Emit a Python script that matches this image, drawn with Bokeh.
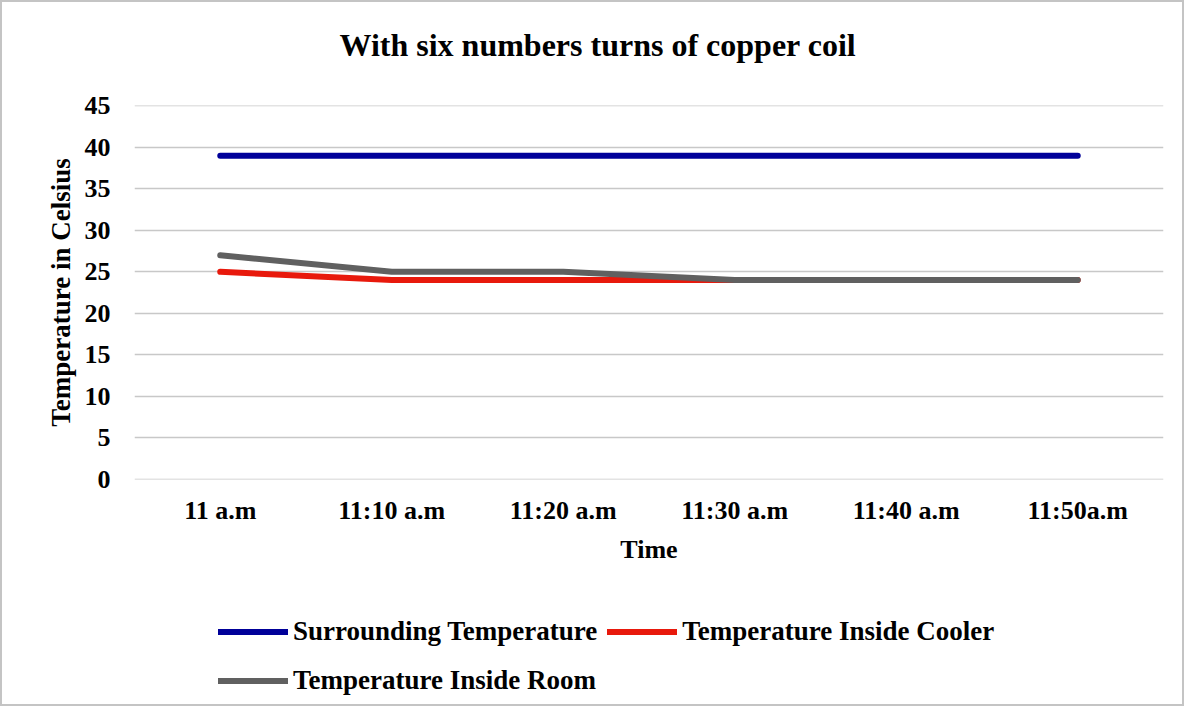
from bokeh.plotting import figure
from bokeh.layouts import column
from bokeh.models import Legend, LegendItem, Range1d, FactorRange, Title
from bokeh.embed import file_html
from bokeh.resources import INLINE

times = ["11 a.m", "11:10 a.m", "11:20 a.m", "11:30 a.m", "11:40 a.m", "11:50a.m"]
surrounding = [39, 39, 39, 39, 39, 39]
cooler = [25, 24, 24, 24, 24, 24]
room = [27, 25, 25, 24, 24, 24]

series_names = ["Surrounding Temperature", "Temperature Inside Cooler", "Temperature Inside Room"]
series_colors = ["#000099", "#e8190c", "#606060"]
series_values = [surrounding, cooler, room]

FONT = "Liberation Serif"

p = figure(x_range=FactorRange(*times), y_range=Range1d(-0.05, 45.05),
           frame_width=1029, frame_height=374,
           min_border_left=132, min_border_right=19,
           min_border_top=103, min_border_bottom=111,
           output_backend="svg", toolbar_location=None)

# spacer between frame and title (panels added first sit closest to the frame)
p.add_layout(Title(text=" ", text_font_size="2px", standoff=39), "above")
p.add_layout(Title(text="With six numbers turns of copper coil", align="left", offset=205,
                   vertical_align="bottom", standoff=0, text_font=FONT,
                   text_font_size="32px", text_font_style="bold", text_color="black"), "above")

p.outline_line_color = None
p.xgrid.grid_line_color = None
p.ygrid.grid_line_color = "#c8c8c8"
p.ygrid.grid_line_width = 1.5
p.yaxis.ticker = [0, 5, 10, 15, 20, 25, 30, 35, 40, 45]

for ax in (p.xaxis, p.yaxis):
    ax.axis_line_color = None
    ax.major_tick_line_color = None
    ax.minor_tick_line_color = None
    ax.major_label_text_font = FONT
    ax.major_label_text_font_size = "26px"
    ax.major_label_text_font_style = "bold"
    ax.major_label_text_color = "black"
    ax.axis_label_text_font = FONT
    ax.axis_label_text_font_size = "26px"
    ax.axis_label_text_font_style = "bold"
    ax.axis_label_text_color = "black"

p.xaxis.axis_label = "Time"
p.yaxis.axis_label = "Temperature in Celsius"
p.yaxis.axis_label_text_font_size = "27px"
p.yaxis.major_label_standoff = 18
p.yaxis.axis_label_standoff = 6
p.xaxis.major_label_standoff = 10
p.xaxis.axis_label_standoff = 7

for vals, color in zip(series_values, series_colors):
    p.line(times, vals, line_color=color, line_width=6, line_cap="round")

# legend strip under the chart; its lines sit outside its view so only the legend shows
p2 = figure(width=1180, height=114, x_range=FactorRange(*times), y_range=Range1d(100, 101),
            min_border=0, x_axis_location=None, y_axis_location=None,
            output_backend="svg", toolbar_location=None)
p2.outline_line_color = None
p2.grid.visible = False

items = []
for name, vals, color in zip(series_names, series_values, series_colors):
    r = p2.line(times, vals, line_color=color, line_width=6, line_cap="round")
    items.append(LegendItem(label=name, renderers=[r]))

legend = Legend(items=items, ncols=2, orientation="horizontal", location=(84, 4))
legend.label_text_font = FONT
legend.label_text_font_size = "27px"
legend.label_text_font_style = "bold"
legend.label_text_color = "black"
legend.glyph_width = 70
legend.glyph_height = 39
legend.label_height = 39
legend.label_standoff = 5
legend.spacing = 10
legend.padding = 0
legend.margin = 0
legend.border_line_color = None
legend.background_fill_alpha = 0
p2.add_layout(legend, "center")

layout = column(p, p2, spacing=0)
layout.styles = {"border": "2px solid #c4c4c4"}

open("out.html", "w").write(file_html(layout, INLINE))
